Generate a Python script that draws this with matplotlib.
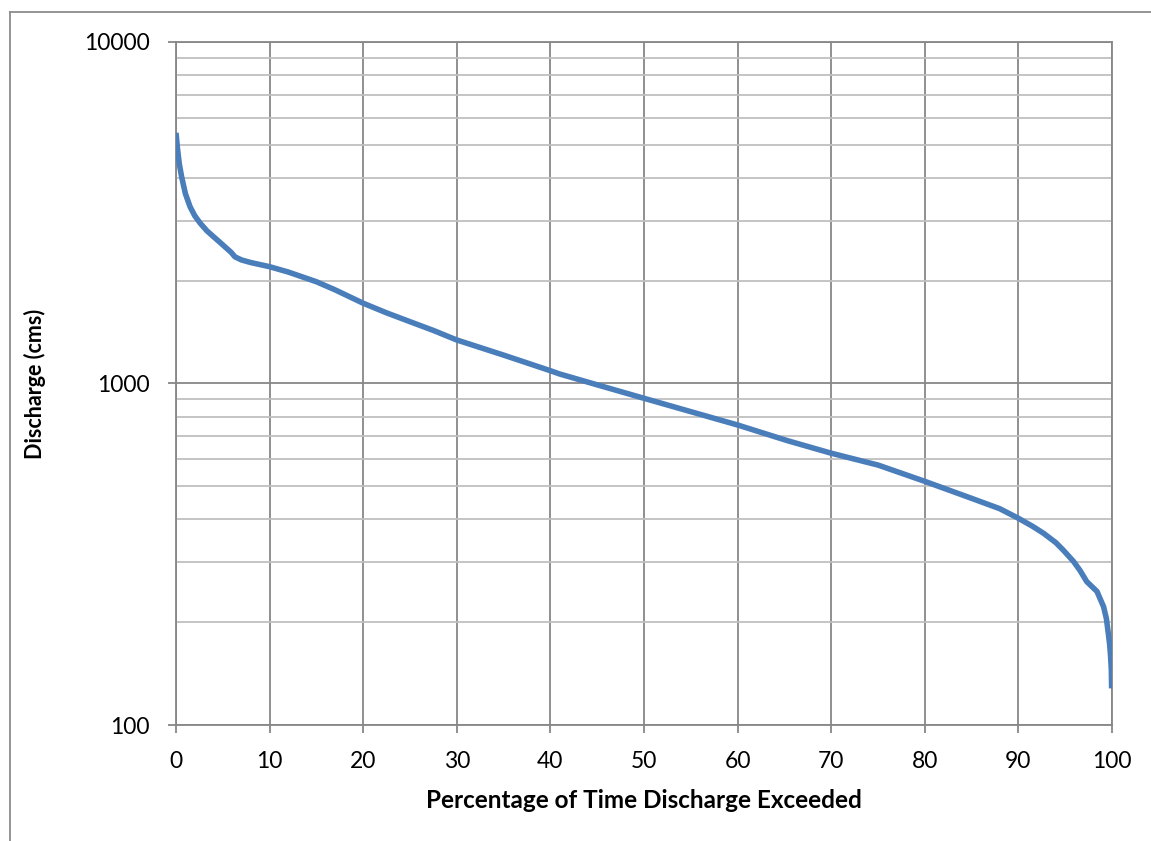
#!/usr/bin/env python3
"""Flow duration curve on a log discharge axis, drawn in an Excel-like style."""

import matplotlib

matplotlib.use("Agg")
import matplotlib.pyplot as plt
from matplotlib.lines import Line2D
from matplotlib.ticker import FixedLocator, LogLocator, NullFormatter


# percentage of time a discharge is exceeded, and the discharge itself (cms)
exceedance = [
    0.0, 0.15, 0.35, 0.6, 1.0, 1.5, 2.0, 2.6, 3.3, 4.0, 4.7, 5.4, 5.9, 6.3,
    7.0, 8.0, 10.0, 12.0, 15.0, 17.0, 20.0, 22.5, 25.0, 27.5, 30.0, 35.0,
    40.0, 41.0, 45.0, 50.0, 55.0, 60.0, 64.6, 65.5, 70.0, 75.0, 80.0, 85.0,
    88.0, 90.0, 91.5, 92.7, 94.0, 94.8, 95.9, 96.6, 97.3, 98.4, 99.1, 99.4,
    99.6, 99.75, 99.85, 99.93, 99.96,
]
discharge = [
    5420, 4900, 4400, 4030, 3600, 3294, 3100, 2944, 2800, 2692, 2590, 2489,
    2420, 2349, 2300, 2260, 2198, 2120, 1986, 1880, 1718, 1610, 1517, 1430,
    1341, 1211, 1090, 1066, 991, 905, 827, 756, 690, 678, 625, 577, 517, 461,
    430, 403, 382, 364, 342, 325, 301, 283, 263, 246, 222, 205, 186, 172, 159,
    145, 128,
]

x_ticks = list(range(0, 101, 10))
y_ticks = [100, 1000, 10000]
y_tick_labels = ["100", "1000", "10000"]

MAJOR_GRID = "#878787"
MINOR_GRID = "#BFBFBF"
LINE_BLUE = "#4A7EBB"
FONT = ["Lato", "DejaVu Sans"]


def main() -> None:
    plt.rcParams["font.family"] = FONT
    fig = plt.figure(figsize=(11.51, 8.41), dpi=100)
    ax = fig.add_axes([176 / 1151, 1 - 725 / 841, 936 / 1151, 683 / 841])

    ax.set_yscale("log")
    ax.set_xlim(0, 100)
    ax.set_ylim(100, 10000)

    ax.xaxis.set_major_locator(FixedLocator(x_ticks))
    ax.yaxis.set_major_locator(FixedLocator(y_ticks))
    ax.set_yticklabels(y_tick_labels)
    ax.yaxis.set_minor_locator(LogLocator(base=10, subs=range(2, 10)))
    ax.yaxis.set_minor_formatter(NullFormatter())

    ax.grid(True, which="minor", axis="y", color=MINOR_GRID, linewidth=1.3, zorder=0)
    ax.grid(True, which="major", axis="both", color=MAJOR_GRID, linewidth=1.3, zorder=1)

    ax.tick_params(axis="both", which="major", length=6, width=1.3, color=MAJOR_GRID,
                   labelsize=16.5, direction="out")
    ax.tick_params(axis="x", pad=13)
    ax.tick_params(axis="y", pad=13)
    ax.tick_params(axis="y", which="minor", length=0)

    for spine in ax.spines.values():
        spine.set_color(MAJOR_GRID)
        spine.set_linewidth(1.3)

    ax.plot(exceedance, discharge, color=LINE_BLUE, linewidth=4.0,
            solid_capstyle="butt", solid_joinstyle="round", zorder=3)

    ax.set_xlabel("Percentage of Time Discharge Exceeded", fontsize=17.5,
                  fontweight="bold", va="center")
    ax.set_ylabel("Discharge (cms)", fontsize=15.5, fontweight="bold", va="center")
    ax.xaxis.set_label_coords(0.5, (725 - 801) / 683)
    ax.yaxis.set_label_coords((35 - 176) / 936, 0.5)

    # outer chart-area border (only the left and top edges are in view)
    W, H = 1151, 841
    fig.add_artist(Line2D([10 / W, 10 / W], [0, 1 - 12 / H], transform=fig.transFigure,
                          color="#8C8C8C", linewidth=1.3))
    fig.add_artist(Line2D([10 / W, 1], [1 - 12 / H, 1 - 12 / H], transform=fig.transFigure,
                          color="#8C8C8C", linewidth=1.3))

    fig.savefig("out.png", dpi=100, facecolor="white")
    plt.close(fig)


if __name__ == "__main__":
    main()
